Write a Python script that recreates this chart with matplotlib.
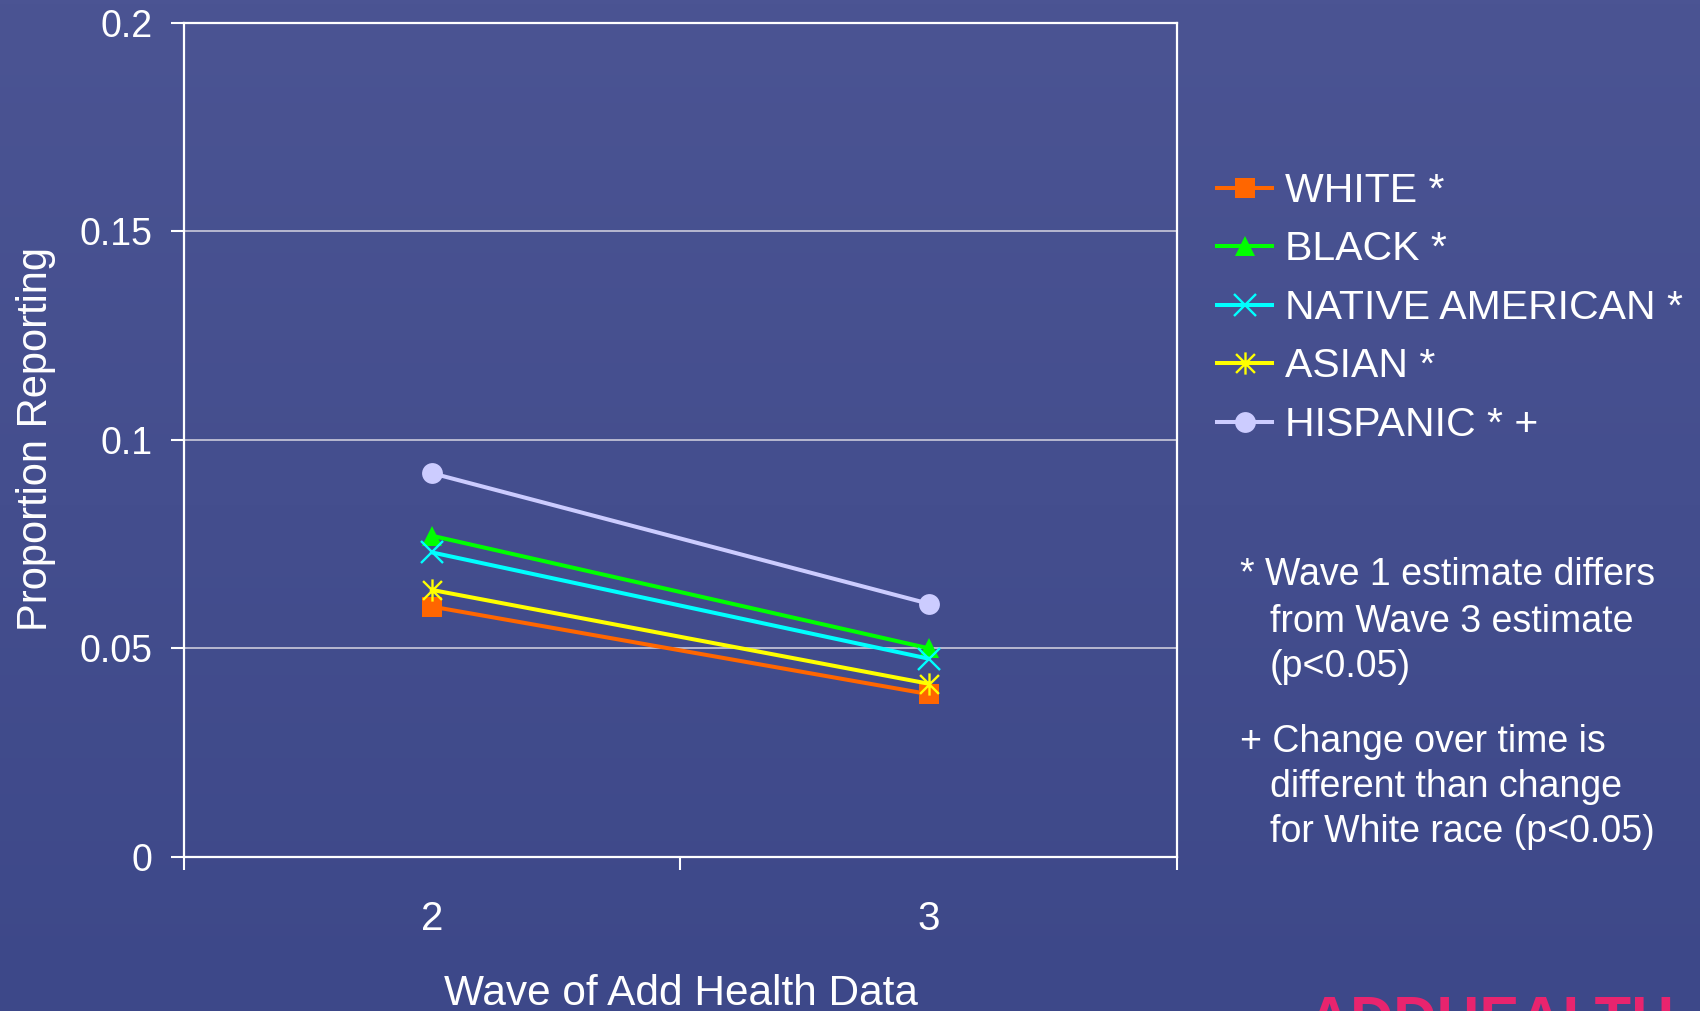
import numpy as np
import matplotlib
matplotlib.use("Agg")
import matplotlib.pyplot as plt
from matplotlib.colors import LinearSegmentedColormap
from matplotlib.path import Path

plt.rcParams['font.family'] = ['Liberation Sans', 'DejaVu Sans']

# proportion reporting by wave
waves = [2, 3]
groups = ["WHITE *", "BLACK *", "NATIVE AMERICAN *", "ASIAN *", "HISPANIC * +"]
white = [0.060, 0.039]
black = [0.077, 0.050]
native_american = [0.073, 0.0475]
asian = [0.064, 0.0415]
hispanic = [0.092, 0.0607]

series = [white, black, native_american, asian, hispanic]
colors = ["#FF6600", "#00FF00", "#00FFFF", "#FFFF00", "#CCCCFF"]

# star marker: vertical stroke plus two diagonals
star = Path([(0, -1), (0, 1), (-0.85, -0.85), (0.85, 0.85), (-0.85, 0.85), (0.85, -0.85)],
            [Path.MOVETO, Path.LINETO, Path.MOVETO, Path.LINETO, Path.MOVETO, Path.LINETO])
markers = ["s", "^", "x", star, "o"]
stroked = [False, False, True, True, False]

W, H = 1700, 1011
fig = plt.figure(figsize=(W / 100, H / 100), dpi=100)

# slide background, slightly darker toward the bottom
bg = fig.add_axes([0, 0, 1, 1], zorder=-10)
grad = np.linspace(0, 1, 256).reshape(-1, 1)
cmap = LinearSegmentedColormap.from_list("bg", ["#4B5493", "#3D4889"])
bg.imshow(grad, aspect="auto", cmap=cmap, extent=[0, 1, 0, 1], origin="upper")
bg.axis("off")

ax = fig.add_axes([183.5 / W, 1 - 856.7 / H, (1177 - 183.5) / W, (856.7 - 23) / H])
ax.patch.set_alpha(0)

for vals, lab, c, m, st in zip(series, groups, colors, markers, stroked):
    ax.plot(waves, vals, color=c, lw=2.9, marker=m, ms=15 if not st else 16,
            mew=1.7 if st else 0, mec=c, mfc=c, label=lab, zorder=3)

ax.set_xlim(1.5, 3.5)
ax.set_ylim(0, 0.2)
ax.set_yticks([0, 0.05, 0.1, 0.15, 0.2])
ax.set_yticklabels(["0", "0.05", "0.1", "0.15", "0.2"])
ax.set_xticks([1.5, 2.5, 3.5])
ax.set_xticklabels([])
ax.set_xticks(waves, minor=True)
ax.set_xticklabels([str(w) for w in waves], minor=True)

ax.yaxis.grid(True, color="#B8B8D0", lw=1.4, zorder=1)
ax.set_axisbelow(True)
for s in ax.spines.values():
    s.set_color("white")
    s.set_linewidth(1.6)

ax.tick_params(axis="y", which="major", direction="out", length=9.4, width=1.5,
               colors="white", labelsize=27, pad=13)
ax.tick_params(axis="x", which="major", direction="out", length=9, width=1.5, colors="white")
ax.tick_params(axis="x", which="minor", length=0, labelsize=29, labelcolor="white", pad=31)

fig.text(36 / W, 1 - 439 / H, "Proportion Reporting", rotation=90, ha="center", va="center",
         color="white", fontsize=30)
fig.text(681 / W, 1 - 1005 / H, "Wave of Add Health Data", ha="center", va="baseline",
         color="white", fontsize=30.5)

leg = ax.legend(loc="upper left", bbox_to_anchor=(1217 / W, 1 - 172 / H), bbox_transform=fig.transFigure,
                frameon=False, fontsize=29.5, handlelength=1.35, handletextpad=0.3,
                labelspacing=0.5, borderpad=0, borderaxespad=0, labelcolor="white")

notes = [
    (1240, 585, "* Wave 1 estimate differs"),
    (1270, 632, "from Wave 3 estimate"),
    (1270, 677, "(p<0.05)"),
    (1240, 752, "+ Change over time is"),
    (1270, 797, "different than change"),
    (1270, 842, "for White race (p<0.05)"),
]
for x, y, t in notes:
    fig.text(x / W, 1 - y / H, t, ha="left", va="baseline", color="white", fontsize=27)

# logo strip at the bottom edge
fig.text(1308 / W, 1 - 995 / H, "ADDHEALTH", ha="left", va="top", color="#E8246E",
         fontsize=43, fontweight="bold")

fig.savefig("out.png", dpi=100)
